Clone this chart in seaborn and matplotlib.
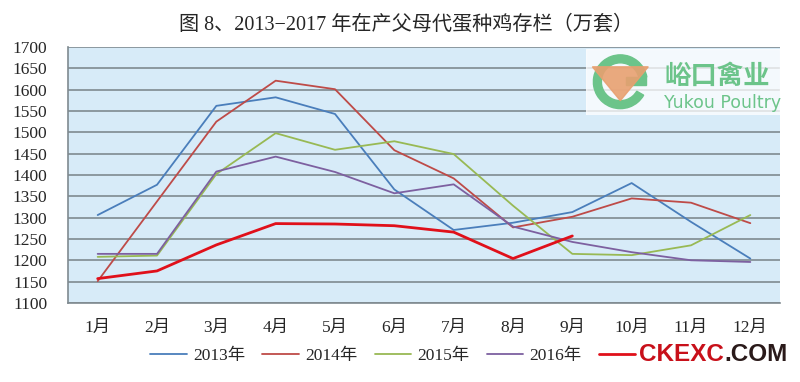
import numpy as np
import pandas as pd
import matplotlib
matplotlib.use('Agg')
import matplotlib.pyplot as plt
import matplotlib.patches as mpatches
import seaborn as sns

# 数据（万套）
months = ['1月', '2月', '3月', '4月', '5月', '6月', '7月', '8月', '9月', '10月', '11月', '12月']
years = ['2013年', '2014年', '2015年', '2016年', '2017年']
v2013 = [1306, 1377, 1562, 1582, 1543, 1366, 1271, 1288, 1313, 1381, 1290, 1204]
v2014 = [1151, 1338, 1525, 1621, 1601, 1458, 1392, 1277, 1302, 1345, 1335, 1287]
v2015 = [1208, 1211, 1402, 1498, 1459, 1479, 1449, 1328, 1215, 1212, 1235, 1306]
v2016 = [1215, 1215, 1408, 1443, 1407, 1357, 1378, 1279, 1243, 1219, 1200, 1196]
v2017 = [1157, 1175, 1236, 1286, 1285, 1281, 1266, 1204, 1257]
yticks = list(range(1100, 1701, 50))

colors = ['#4a7ebb', '#be4b48', '#98b954', '#7d60a0', '#e0101a']
widths = [1.3, 1.3, 1.3, 1.3, 2.0]

rows = []
for yr, vals in zip(years, [v2013, v2014, v2015, v2016, v2017]):
    for m, v in zip(months, vals):
        rows.append({'月份': m, '年份': yr, '存栏': v})
df = pd.DataFrame(rows)
df['x'] = df['月份'].map({m: i for i, m in enumerate(months)})

sns.set_theme(style='white')
plt.rcParams['font.family'] = ['Liberation Serif', 'Noto Sans CJK SC', 'DejaVu Sans']

fig = plt.figure(figsize=(8, 3.82), dpi=100)
ax = fig.add_axes([0.085, 0.207, 0.89, 0.670])
ax.set_facecolor('#d7ebf8')

for yr, c, lw in zip(years, colors, widths):
    sns.lineplot(data=df[df['年份'] == yr], x='x', y='存栏', ax=ax, color=c,
                 linewidth=lw, label=yr, zorder=3)

ax.set_xlim(-0.5, 11.5)
ax.set_ylim(1100, 1700)
ax.set_yticks(yticks)
ax.set_yticklabels([str(t) for t in yticks], fontsize=12.5)
ax.yaxis.grid(True, color='#7f8a90', linewidth=1.2, zorder=1)
ax.set_axisbelow(True)

ax.set_xticks(range(12))
ax.set_xticklabels(months, fontsize=12.5)
ax.set_xticks(np.arange(-0.5, 12, 1), minor=True)
ax.tick_params(axis='x', which='major', length=0, pad=12)
ax.tick_params(axis='x', which='minor', length=7, width=1, color='#7f8a90', direction='out')
ax.tick_params(axis='y', length=5, width=1, color='#7f8a90', direction='out', pad=10)
ax.set_xlabel('')
ax.set_ylabel('')

for s in ['top', 'right']:
    ax.spines[s].set_visible(False)
for s in ['left', 'bottom']:
    ax.spines[s].set_color('#7f8a90')
    ax.spines[s].set_linewidth(1.2)

# 图例：2017年一项被水印盖住，只留线段
ax.legend_.remove()
handles, labels = ax.get_legend_handles_labels()
labels[-1] = ''
fig.legend(handles, labels, loc='center left', bbox_to_anchor=(0.188, 0.068), ncol=5,
           frameon=False, fontsize=12.5, handlelength=2.1, handletextpad=0.35,
           columnspacing=1.0, borderaxespad=0, borderpad=0)

fig.text(0.507, 0.935, '图 8、2013−2017 年在产父母代蛋种鸡存栏（万套）',
         ha='center', va='center', fontsize=14.5,
         family=['Liberation Serif', 'Noto Sans CJK SC'])

# 水印：峪口禽业
ax_logo = fig.add_axes([0.733, 0.70, 0.242, 0.172])
ax_logo.set_xlim(0, 194)
ax_logo.set_ylim(66, 0)
ax_logo.axis('off')
ax_logo.add_patch(mpatches.Rectangle((0, 0), 194, 66, color='white', alpha=0.75))
ax_logo.add_patch(mpatches.Wedge((34, 33), 27, 30, 350, width=8, color='#6cc48a'))
ax_logo.add_patch(mpatches.Rectangle((40, 28), 20, 8, color='#6cc48a'))
ax_logo.add_patch(mpatches.Polygon([(6, 18), (62, 18), (34, 52)], color='#e8a070', alpha=0.9))
ax_logo.text(78, 28, '峪口禽业', fontsize=19, color='#6cc48a', fontweight='bold',
             va='center', ha='left', family=['Noto Sans CJK SC'])
ax_logo.text(78, 54, 'Yukou Poultry', fontsize=12.5, color='#6cc48a',
             va='center', ha='left', family=['DejaVu Sans'])

# 水印：CKEXC.COM
t1 = fig.text(0.799, 0.072, 'CKEXC', fontsize=17.5, fontweight='bold', color='#c8101a',
              ha='left', va='center', family=['Liberation Sans'])
ax.annotate('.COM', xy=(1, 0.5), xycoords=t1, xytext=(0, 0), textcoords='offset points',
            fontsize=17.5, fontweight='bold', color='#2a1a1a', ha='left', va='center',
            family=['Liberation Sans'], annotation_clip=False)

plt.savefig('out.png', dpi=100)
